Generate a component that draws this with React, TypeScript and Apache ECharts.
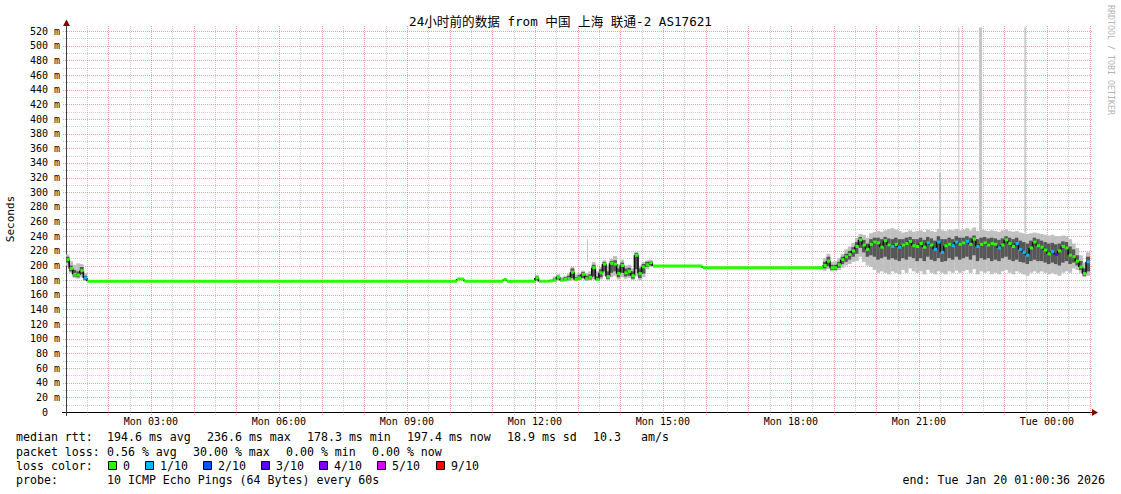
import React, { useEffect, useRef } from 'react';
import * as echarts from 'echarts';

const MONO = '"DejaVu Sans Mono", "Noto Sans CJK SC", monospace';

const titleText = '24小时前的数据 from 中国 上海 联通-2 AS17621';
const yAxisTitle = 'Seconds';
const watermark = 'RRDTOOL / TOBI OETIKER';

// minutes since Mon 00:00
const startMinute = 60.6;
const endMinute = 1500.6;
const yMax = 527;

const xLabelMinutes = [180, 360, 540, 720, 900, 1080, 1260, 1440];
const xLabelTexts = ['Mon 03:00', 'Mon 06:00', 'Mon 09:00', 'Mon 12:00', 'Mon 15:00', 'Mon 18:00', 'Mon 21:00', 'Tue 00:00'];
const yLabelValues = [0, 20, 40, 60, 80, 100, 120, 140, 160, 180, 200, 220, 240, 260, 280, 300, 320, 340, 360, 380, 400, 420, 440, 460, 480, 500, 520];

// ---- region 1: start of window ----
const r1Start = [60.6, 65, 70, 75, 80, 85];
const r1Median = [208, 196, 188, 187, 193, 183];
const r1Min = [200, 190, 183, 182, 184, 179];
const r1Lo = [204, 192, 185, 184, 188, 180];
const r1Hi = [212, 200, 194, 192, 198, 186];
const r1Max = [215, 206, 201, 203, 202, 190];
const r1Loss = [0, 0, 0, 0, 0, 1];

// ---- flat part (morning) ----
const f1Start = [90, 610, 620, 675, 680];
const f1Median = [178.6, 181.5, 178.4, 181, 178.5];

// ---- region 2: around noon ----
const r2Start = [720, 725, 730, 735, 740, 745, 750, 755, 760, 765, 770, 775, 780, 785, 790, 795, 800, 805, 810, 815, 820, 825, 830, 835, 840, 845, 850, 855, 860, 865, 870, 875, 880];
const r2Median = [183, 178.5, 178.5, 178.5, 179, 180, 184, 180, 181, 182, 191, 181, 183, 188, 182, 184, 197, 181, 190, 202, 185, 203, 202, 189, 200, 190, 192, 186, 214, 189, 198, 201, 204];
const r2Min = [178, 178, 178, 178, 178, 178, 179, 178, 178, 179, 180, 179, 180, 181, 179, 180, 181, 179, 181, 186, 180, 184, 186, 181, 184, 182, 183, 180, 185, 180, 184, 195, 198];
const r2Lo = [180, 178, 178, 178, 178.5, 179, 181, 179, 179, 180, 183, 180, 181, 183, 180, 181, 185, 180, 184, 192, 182, 190, 192, 184, 190, 185, 186, 182, 195, 183, 189, 198, 200];
const r2Hi = [185, 179, 179, 179, 180, 182, 186, 182, 184, 186, 196, 184, 187, 191, 186, 188, 201, 185, 195, 205, 192, 206, 207, 196, 204, 196, 197, 192, 217, 196, 202, 205, 206];
const r2Max = [187, 179, 179, 179, 181, 185, 188, 184, 186, 189, 198, 188, 190, 193, 190, 192, 205, 192, 198, 207, 200, 209, 213, 202, 208, 200, 201, 196, 219, 200, 205, 207, 208];

// ---- flat part (afternoon) ----
const f2Start = [885, 955];
const f2Median = [199.5, 197];

// ---- region 3: evening ----
const r3Start = [
  1125, 1130, 1135, 1140, 1145, 1150, 1155, 1160, 1165, 1170,
  1175, 1180, 1185, 1190, 1195, 1200, 1205, 1210, 1215, 1220,
  1225, 1230, 1235, 1240, 1245, 1250, 1255, 1260, 1265, 1270,
  1275, 1280, 1285, 1290, 1295, 1300, 1305, 1310, 1315, 1320,
  1325, 1330, 1335, 1340, 1345, 1350, 1355, 1360, 1365, 1370,
  1375, 1380, 1385, 1390, 1395, 1400, 1405, 1410, 1415, 1420,
  1425, 1430, 1435, 1440, 1445, 1450, 1455, 1460, 1465, 1470,
  1475, 1480, 1485, 1490, 1495];
const r3Median = [
  200, 206, 197, 197, 201, 208, 212, 215, 220, 226,
  235, 228, 222, 229, 232, 231, 225, 234, 228, 226,
  229, 225, 228, 230, 233, 227, 226, 230, 225, 231,
  228, 222, 232, 218, 227, 229, 227, 232, 229, 231,
  233, 229, 236, 226, 229, 231, 228, 230, 229, 224,
  228, 235, 230, 226, 230, 222, 218, 214, 224, 232,
  227, 225, 221, 216, 219, 215, 220, 226, 224, 214,
  212, 206, 198, 189, 205];
const r3Min = [
  193, 195, 192, 192, 194, 197, 200, 202, 205, 206,
  212, 205, 200, 198, 194, 190, 192, 190, 188, 192,
  190, 188, 194, 190, 196, 192, 190, 192, 188, 194,
  190, 188, 192, 190, 188, 192, 190, 193, 190, 192,
  194, 190, 195, 188, 192, 190, 192, 188, 190, 188,
  192, 194, 190, 188, 192, 190, 188, 186, 190, 192,
  190, 192, 190, 188, 190, 188, 186, 190, 192, 190,
  196, 194, 190, 184, 186];
const r3Lo = [
  196, 199, 194, 194, 197, 202, 205, 208, 212, 216,
  224, 218, 212, 214, 212, 208, 210, 212, 208, 210,
  208, 206, 210, 208, 212, 210, 206, 210, 206, 212,
  208, 206, 210, 205, 206, 210, 208, 212, 208, 210,
  212, 208, 214, 206, 210, 208, 210, 206, 208, 206,
  210, 212, 208, 206, 208, 205, 204, 202, 206, 208,
  206, 206, 204, 202, 204, 202, 200, 204, 206, 202,
  204, 200, 194, 186, 192];
const r3Hi = [
  205, 212, 201, 201, 205, 212, 216, 220, 225, 232,
  239, 235, 230, 236, 238, 238, 236, 239, 237, 236,
  238, 236, 236, 238, 239, 236, 236, 238, 235, 239,
  237, 234, 240, 236, 236, 238, 236, 240, 238, 238,
  240, 238, 241, 236, 238, 239, 237, 238, 237, 235,
  237, 240, 238, 236, 238, 234, 232, 230, 234, 238,
  236, 234, 232, 230, 231, 229, 230, 233, 232, 226,
  222, 214, 206, 196, 212];
const r3Max = [
  210, 216, 205, 206, 210, 216, 222, 226, 231, 238,
  243, 242, 238, 244, 246, 247, 246, 248, 250, 251,
  249, 247, 245, 246, 248, 246, 247, 248, 246, 249,
  247, 246, 250, 248, 247, 249, 248, 250, 248, 249,
  251, 248, 252, 247, 249, 248, 247, 248, 247, 246,
  248, 249, 247, 246, 247, 245, 244, 243, 244, 245,
  244, 243, 242, 241, 242, 240, 240, 241, 240, 236,
  230, 224, 214, 204, 218];
const r3Loss = [
  0, 0, 0, 0, 0, 0, 0, 0, 0, 0,
  0, 0, 0, 0, 0, 0, 0, 0, 0, 1,
  0, 1, 0, 0, 0, 0, 0, 0, 0, 1,
  0, 1, 1, 1, 0, 0, 1, 1, 0, 0,
  1, 0, 0, 1, 0, 0, 0, 0, 0, 1,
  0, 0, 0, 0, 1, 1, 1, 1, 0, 0,
  0, 0, 0, 0, 1, 3, 0, 0, 0, 0,
  0, 0, 0, 0, 1];

// isolated high pings (outer smoke spikes)
const spikeStart = [793.2, 1288.3, 1315.4, 1344.5, 1408.6];
const spikeEnd = [794.6, 1291.1, 1316.8, 1348.7, 1410.0];
const spikeTop = [236, 327, 525, 525, 526];
const spikeBottom = [205, 245, 248, 248, 245];

const lossColors: Record<number, string> = {
  0: '#26ff00', 1: '#00b8ff', 2: '#0059ff', 3: '#5e00ff', 4: '#7e00ff', 5: '#dd00ff', 9: '#ff0000',
};
const lossLegendLevels = [0, 1, 2, 3, 4, 5, 9];
const lossLegendLabels = ['0', '1/10', '2/10', '3/10', '4/10', '5/10', '9/10'];

const statsLine1 = ['median rtt:', '194.6 ms avg', '236.6 ms max', '178.3 ms min', '197.4 ms now', '18.9 ms sd', '10.3', 'am/s'];
const statsLine2 = ['packet loss:', '0.56 % avg', '30.00 % max', '0.00 % min', '0.00 % now'];
const lossLegendTitle = 'loss color:';
const probeLabel = 'probe:';
const probeText = '10 ICMP Echo Pings (64 Bytes) every 60s';
const endText = 'end: Tue Jan 20 01:00:36 2026';

// ---------- layout (pixels) ----------
const GRID_LEFT = 66;
const GRID_TOP = 26;
const GRID_W = 1024;
const GRID_H = 386;
const line1X = [16, 107, 207, 307, 407, 507, 593, 641];
const line2X = [16, 107, 193, 286, 372];
const boxX = [108, 145, 203, 261, 319, 377, 436];
const rowY = [437, 452, 466, 480];
const MAJOR = 'rgba(222,48,48,0.45)';
const MINOR = 'rgba(130,130,130,0.40)';

type Slot = { s: number; m: number; mn: number | null; lo: number | null; hi: number | null; mx: number | null; loss: number };

function buildSlots(): Slot[] {
  const out: Slot[] = [];
  r1Start.forEach((s, i) => out.push({ s, m: r1Median[i], mn: r1Min[i], lo: r1Lo[i], hi: r1Hi[i], mx: r1Max[i], loss: r1Loss[i] }));
  f1Start.forEach((s, i) => out.push({ s, m: f1Median[i], mn: null, lo: null, hi: null, mx: null, loss: 0 }));
  r2Start.forEach((s, i) => out.push({ s, m: r2Median[i], mn: r2Min[i], lo: r2Lo[i], hi: r2Hi[i], mx: r2Max[i], loss: 0 }));
  f2Start.forEach((s, i) => out.push({ s, m: f2Median[i], mn: null, lo: null, hi: null, mx: null, loss: 0 }));
  r3Start.forEach((s, i) => out.push({ s, m: r3Median[i], mn: r3Min[i], lo: r3Lo[i], hi: r3Hi[i], mx: r3Max[i], loss: r3Loss[i] }));
  return out;
}

function buildOption() {
  const slots = buildSlots();
  const ends = slots.map((sl, i) => (i + 1 < slots.length ? slots[i + 1].s : endMinute));

  const smokeData = slots
    .map((sl, i) => (sl.mn == null ? null : [sl.s, ends[i], sl.mn, sl.lo, sl.hi, sl.mx]))
    .filter((d) => d !== null);
  const medianData = slots.map((sl, i) => [sl.s, ends[i], sl.m, sl.loss]);
  const linkData = slots.slice(1).map((sl, i) => [sl.s, slots[i].m, sl.m]);
  const spikeData = spikeStart.map((s, i) => [s, spikeEnd[i], spikeBottom[i], spikeTop[i], i === 4 ? 1 : 0]);

  const xGrid: number[][] = [];
  for (let m = 90; m <= 1500; m += 30) xGrid.push([m, 0, m % 60 === 0 ? 1 : 0]);
  const yGrid: number[][] = [];
  for (let v = 10; v <= 520; v += 10) yGrid.push([startMinute, v, v % 20 === 0 ? 1 : 0]);

  const graphics: any[] = [];
  const txt = (text: string, x: number, y: number, extra: any = {}) => ({
    type: 'text', x, y, silent: true,
    style: { text, fontSize: 11.6, fontFamily: MONO, fill: '#000', align: 'left', verticalAlign: 'middle', ...extra },
  });
  statsLine1.forEach((t, i) => graphics.push(txt(t, line1X[i], rowY[0])));
  statsLine2.forEach((t, i) => graphics.push(txt(t, line2X[i], rowY[1])));
  graphics.push(txt(lossLegendTitle, 16, rowY[2]));
  lossLegendLevels.forEach((lv, i) => {
    graphics.push({
      type: 'rect', silent: true,
      shape: { x: boxX[i] + 0.5, y: rowY[2] - 4.5, width: 8, height: 8 },
      style: { fill: lossColors[lv], stroke: '#000', lineWidth: 1 },
    });
    graphics.push(txt(lossLegendLabels[i], boxX[i] + 15, rowY[2]));
  });
  graphics.push(txt(probeLabel, 16, rowY[3]));
  graphics.push(txt(probeText, 107, rowY[3]));
  graphics.push(txt(endText, 1105, rowY[3], { align: 'right' }));
  graphics.push({
    type: 'text', x: 10, y: 219, rotation: Math.PI / 2, silent: true,
    style: { text: yAxisTitle, fontSize: 11, fontFamily: MONO, fill: '#000', align: 'center', verticalAlign: 'middle' },
  });
  graphics.push({
    type: 'text', x: 1111, y: 60, rotation: -Math.PI / 2, silent: true,
    style: { text: watermark, fontSize: 8.3, fontFamily: MONO, fill: '#b4b4b4', align: 'center', verticalAlign: 'middle' },
  });
  graphics.push({
    type: 'text', x: 560.5, y: 21, silent: true,
    style: { text: titleText, fontSize: 12.6, fontFamily: MONO, fill: '#000', align: 'center', verticalAlign: 'middle' },
  });
  // axis extensions and arrows
  graphics.push({ type: 'line', silent: true, shape: { x1: 62, y1: 412.5, x2: 1093, y2: 412.5 }, style: { stroke: '#000', lineWidth: 1 } });
  graphics.push({ type: 'line', silent: true, shape: { x1: 66.5, y1: 416, x2: 66.5, y2: 24 }, style: { stroke: '#404040', lineWidth: 1 } });
  graphics.push({ type: 'polygon', silent: true, shape: { points: [[1092, 409], [1098, 412.5], [1092, 416]] }, style: { fill: '#7f0000' } });
  graphics.push({ type: 'polygon', silent: true, shape: { points: [[63, 26], [66.5, 19.5], [70, 26]] }, style: { fill: '#7f0000' } });

  return {
    animation: false,
    backgroundColor: '#ffffff',
    grid: { left: GRID_LEFT, top: GRID_TOP, width: GRID_W, height: GRID_H, containLabel: false },
    xAxis: {
      type: 'value', min: startMinute, max: endMinute,
      axisLine: { show: false },
      axisTick: { show: false },
      splitLine: { show: false },
      axisLabel: {
        customValues: xLabelMinutes,
        formatter: (v: number) => {
          const i = xLabelMinutes.findIndex((m) => Math.abs(m - v) < 0.01);
          return i >= 0 ? xLabelTexts[i] : '';
        },
        fontSize: 10, fontFamily: MONO, color: '#000', margin: 4,
      },
    },
    yAxis: {
      type: 'value', min: 0, max: yMax,
      axisLine: { show: false },
      axisTick: { show: false },
      splitLine: { show: false },
      axisLabel: {
        customValues: yLabelValues,
        formatter: (v: number) => (v === 0 ? '{z|0}' : v + ' m'),
        fontSize: 10, fontFamily: MONO, color: '#000', margin: 6,
        rich: { z: { fontSize: 10, fontFamily: MONO, color: '#000', padding: [0, 12, 0, 0] } },
      },
    },
    graphic: graphics,
    series: [
      {
        type: 'custom', name: 'xgrid', silent: true, clip: false,
        data: xGrid, encode: { x: 0, y: 1 },
        renderItem: (params: any, api: any) => {
          const m = api.value(0);
          const x = Math.round(api.coord([m, 0])[0]) + 0.5;
          const bot = api.coord([m, 0])[1];
          const top = api.coord([m, yMax])[1];
          return { type: 'line', shape: { x1: x, y1: bot + 3, x2: x, y2: top }, style: { stroke: api.value(2) ? MAJOR : MINOR, lineWidth: 1, lineDash: [1, 1] } };
        },
      },
      {
        type: 'custom', name: 'ygrid', silent: true, clip: false,
        data: yGrid, encode: { x: 0, y: 1 },
        renderItem: (params: any, api: any) => {
          const v = api.value(1);
          const y = Math.round(api.coord([startMinute, v])[1]) + 0.5;
          const x0 = api.coord([startMinute, v])[0];
          const x1 = api.coord([endMinute, v])[0];
          return { type: 'line', shape: { x1: x0 - 3, y1: y, x2: x1 + 2, y2: y }, style: { stroke: api.value(2) ? MAJOR : MINOR, lineWidth: 1, lineDash: [1, 1] } };
        },
      },
      {
        type: 'custom', name: 'spikes', silent: true, clip: true,
        data: spikeData, encode: { x: [0, 1], y: [2, 3] },
        renderItem: (params: any, api: any) => {
          const a = api.coord([api.value(0), api.value(3)]);
          const b = api.coord([api.value(1), api.value(2)]);
          return { type: 'rect', shape: { x: a[0], y: a[1], width: Math.max(1, b[0] - a[0]), height: b[1] - a[1] }, style: { fill: api.value(4) ? '#a8a8a8' : '#c6c6c6' } };
        },
      },
      {
        type: 'custom', name: 'smoke', silent: true, clip: true,
        data: smokeData, encode: { x: [0, 1], y: [2, 3, 4, 5] },
        renderItem: (params: any, api: any) => {
          const x0 = api.coord([api.value(0), 0])[0];
          const x1 = api.coord([api.value(1), 0])[0] + 0.3;
          const yMn = api.coord([0, api.value(2)])[1];
          const yLo = api.coord([0, api.value(3)])[1];
          const yHi = api.coord([0, api.value(4)])[1];
          const yMx = api.coord([0, api.value(5)])[1];
          return {
            type: 'group',
            children: [
              { type: 'rect', shape: { x: x0, y: yMx, width: x1 - x0, height: yMn - yMx }, style: { fill: '#c0c0c0' } },
              { type: 'rect', shape: { x: x0, y: yHi, width: x1 - x0, height: yLo - yHi }, style: { fill: '#575757' } },
            ],
          };
        },
      },
      {
        type: 'custom', name: 'link', silent: true, clip: true,
        data: linkData, encode: { x: 0, y: [1, 2] },
        renderItem: (params: any, api: any) => {
          const a = api.coord([api.value(0), api.value(1)]);
          const b = api.coord([api.value(0), api.value(2)]);
          return { type: 'line', shape: { x1: a[0], y1: a[1], x2: b[0], y2: b[1] }, style: { stroke: '#111111', lineWidth: 1.6 } };
        },
      },
      {
        type: 'custom', name: 'median', silent: true, clip: true,
        data: medianData, encode: { x: [0, 1], y: 2 },
        renderItem: (params: any, api: any) => {
          const x0 = api.coord([api.value(0), 0])[0];
          const x1 = api.coord([api.value(1), 0])[0] + 0.3;
          const y = api.coord([0, api.value(2)])[1];
          return { type: 'rect', shape: { x: x0 + 0.6, y: y - 1.5, width: Math.max(1, x1 - x0 - 0.6), height: 3 }, style: { fill: lossColors[api.value(3)] || '#26ff00' } };
        },
      },
    ],
  };
}

export default function App() {
  const ref = useRef<HTMLDivElement>(null);
  useEffect(() => {
    if (!ref.current) return;
    const chart = echarts.init(ref.current, null, { renderer: 'svg' });
    chart.setOption(buildOption() as any);
    return () => chart.dispose();
  }, []);
  return (
    <div
      ref={ref}
      style={{ position: 'fixed', left: 0, top: 0, width: 1121, height: 494, background: '#ffffff' }}
    />
  );
}
